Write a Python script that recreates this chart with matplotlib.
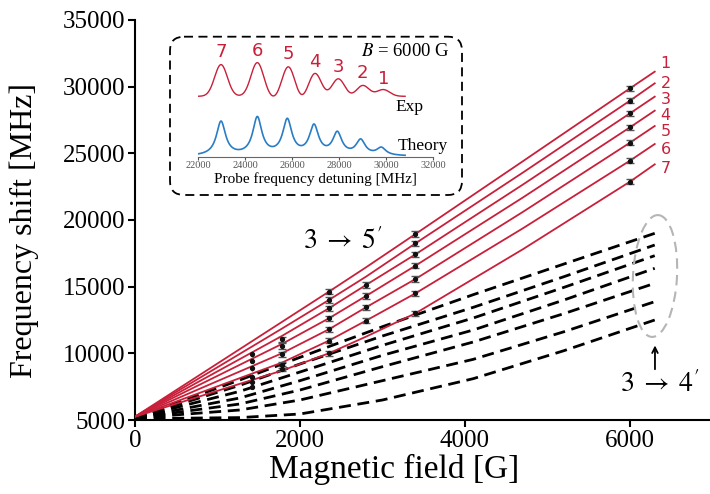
import numpy as np
import matplotlib
matplotlib.use("Agg")
import matplotlib.pyplot as plt
from matplotlib.patches import FancyBboxPatch, Ellipse

plt.rcParams["font.family"] = ["Liberation Serif", "DejaVu Serif"]
plt.rcParams["mathtext.fontset"] = "stix"

RED = "#c8203a"
BLUE = "#2a7dc4"

# ------------------------------------------------------------
# 1. DATA
# ------------------------------------------------------------
# 3 -> 5' theory lines (red), sampled at these fields [G]
red_B = [0, 1780, 2350, 2800, 3400, 4700, 6000, 6300]
red_1 = [5250, 12350, 14625, 16450, 18950, 24400, 29875, 31125]
red_2 = [5250, 11850, 14000, 15750, 18250, 23550, 28950, 30250]
red_3 = [5250, 11300, 13375, 15125, 17425, 22650, 28000, 29250]
red_4 = [5250, 10700, 12625, 14300, 16575, 21680, 26950, 28200]
red_5 = [5250, 10000, 11800, 13450, 15575, 20600, 25800, 27050]
red_6 = [5250, 9300, 10950, 12450, 14500, 19370, 24450, 25700]
red_7 = [5250, 8700, 10000, 11250, 13000, 17800, 22875, 24175]
red_lines = [red_1, red_2, red_3, red_4, red_5, red_6, red_7]
line_names = ["1", "2", "3", "4", "5", "6", "7"]

# 3 -> 4' theory lines (black dashed)
dash_B = [0, 1270, 2000, 3000, 4100, 5200, 6300]
dash_1 = [5150, 8000, 9700, 12000, 14400, 16700, 19000]
dash_2 = [5150, 7600, 9200, 11300, 13450, 15750, 18125]
dash_3 = [5150, 7150, 8600, 10600, 12650, 14950, 17325]
dash_4 = [5150, 6650, 7950, 9850, 11750, 14000, 16375]
dash_5 = [5150, 6200, 7250, 9000, 10850, 12980, 15250]
dash_6 = [5150, 5750, 6500, 7950, 9550, 11620, 13875]
dash_7 = [5100, 5180, 5450, 6500, 8100, 10200, 12500]
dash_lines = [dash_1, dash_2, dash_3, dash_4, dash_5, dash_6, dash_7]

# measured peak positions
meas_B = [1414, 1780, 2350, 2800, 3400, 6000]
meas_shift = [
    [9925, 9450, 8875, 8250, 7875, 7500],
    [11050, 10550, 9925, 9125, 8850],
    [14625, 14000, 13375, 12625, 11800, 10950, 10000],
    [15125, 14300, 13450, 12450],
    [18950, 18250, 17425, 16575, 15575, 14500, 13000],
    [29875, 28950, 28000, 26950, 25800, 24450, 22875],
]
meas_err = 200

# inset spectra at B = 6000 G: peak centres [MHz], heights, widths
exp_centres = [22966, 24511, 25830, 26966, 27957, 28996, 29872]
exp_heights = [31.7, 33.7, 30.0, 23.3, 17.7, 11.0, 6.7]
exp_sigma = 270
exp_dip_centres = [25264, 26400, 27460, 28527]
exp_dip_depths = [-3.0, -4.0, -1.0, -1.0]
exp_baseline = 61

th_centres = [22966, 24511, 25787, 26923, 27915, 28908, 29787]
th_heights = [34.0, 37.5, 35.0, 29.0, 22.0, 15.0, 7.5]
th_hwhm = 235
th_baseline = 1

peak_label_y = [105.6, 106.6, 103.3, 95.6, 90.6, 84.0, 78.0]

# ------------------------------------------------------------
# 2. MAIN PLOT
# ------------------------------------------------------------
fig = plt.figure(figsize=(7.1, 4.94), dpi=100)
ax = fig.add_axes([135 / 710, 74 / 494, 575 / 710, 400 / 494])

for d in dash_lines:
    ax.plot(dash_B, d, color="k", lw=2.0, ls=(0, (4.3, 2.4)), zorder=2)

for r in red_lines:
    ax.plot(red_B, r, color=RED, lw=1.3, zorder=3)

for B, shifts in zip(meas_B, meas_shift):
    cap = 0 if B == meas_B[0] else 3
    ax.errorbar([B] * len(shifts), shifts, yerr=meas_err, fmt="o", ms=2.8,
                color="#111111", ecolor="#555555", elinewidth=1,
                capsize=cap, capthick=1, zorder=4)

label_y = [31750, 30250, 29050, 27875, 26675, 25300, 23875]
for name, y in zip(line_names, label_y):
    ax.text(6430, y, name, color=RED, fontsize=11.5, family="DejaVu Sans",
            ha="center", va="center", clip_on=False)

ax.text(2515, 18375, r"$3\;\rightarrow\;5'$", fontsize=20,
        ha="center", va="center")
ax.text(6358, 7625, r"$3\;\rightarrow\;4'$", fontsize=20,
        ha="center", va="center", clip_on=False)
ax.annotate("", xy=(6303, 10800), xytext=(6303, 8600),
            arrowprops=dict(arrowstyle="->", lw=1.3, color="k"))

ax.set_xlim(0, 6970)
ax.set_ylim(5000, 35000)
ax.set_xticks([0, 2000, 4000, 6000])
ax.set_yticks(range(5000, 35001, 5000))
ax.spines["top"].set_visible(False)
ax.spines["right"].set_visible(False)
for s in ("left", "bottom"):
    ax.spines[s].set_linewidth(1.5)
ax.tick_params(labelsize=18, length=5, width=1.5, direction="out", pad=2)
ax.set_xlabel("Magnetic field [G]", fontsize=24)
ax.set_ylabel("Frequency shift [MHz]", fontsize=23)
ax.xaxis.set_label_coords(0.45, -0.085)
ax.yaxis.set_label_coords(-0.167, 0.475)

# ------------------------------------------------------------
# 3. INSET SPECTRA
# ------------------------------------------------------------
ins = fig.add_axes([198.3 / 710, (494 - 157.3) / 494, 235 / 710, 102.3 / 494])
ins.patch.set_alpha(0)
f = np.linspace(22000, 30800, 900)
exp_curve = np.full_like(f, exp_baseline, dtype=float)
for c, h in zip(exp_centres, exp_heights):
    exp_curve += h * np.exp(-0.5 * ((f - c) / exp_sigma) ** 2)
for c, h in zip(exp_dip_centres, exp_dip_depths):
    exp_curve += h * np.exp(-0.5 * ((f - c) / 250) ** 2)
th_curve = np.full_like(f, th_baseline, dtype=float)
for c, h in zip(th_centres, th_heights):
    th_curve += h * th_hwhm ** 2 / ((f - c) ** 2 + th_hwhm ** 2)
ins.plot(f, exp_curve, color=RED, lw=1.0)
ins.plot(f, th_curve, color=BLUE, lw=1.2)
for name, c, y in zip(line_names[::-1], exp_centres, peak_label_y):
    ins.text(c, y, name, color=RED, fontsize=13, family="DejaVu Sans",
             ha="center", va="center", clip_on=False)
ins.text(30796, 105.6, r"$B$ = 6000 G", fontsize=13.5,
         ha="center", va="center", clip_on=False)
ins.text(30966, 50.6, "Exp", fontsize=12.5, ha="center", va="center")
ins.text(31540, 11.3, "Theory", fontsize=12.5, ha="center", va="center")
ins.set_xlim(22000, 32000)
ins.set_ylim(0, 102.3)
ins.set_xticks(range(22000, 32001, 2000))
ins.set_yticks([])
for s in ("top", "right", "left"):
    ins.spines[s].set_visible(False)
ins.spines["bottom"].set_color("#666666")
ins.tick_params(labelsize=7.5, length=2, colors="#555555", pad=1)
ins.set_xlabel("Probe frequency detuning [MHz]", fontsize=11, labelpad=1)

# ------------------------------------------------------------
# 4. FRAME AROUND INSET + ELLIPSE (pixel overlay)
# ------------------------------------------------------------
ov = fig.add_axes([0, 0, 1, 1])
ov.set_xlim(0, 710)
ov.set_ylim(494, 0)
ov.axis("off")
ov.patch.set_alpha(0)
ov.add_patch(FancyBboxPatch((170, 36.7), 292, 158.3,
                            boxstyle="round,pad=0,rounding_size=14",
                            fill=False, lw=1.3, ls=(0, (5, 3)), ec="k"))
ov.add_patch(Ellipse((655, 276), 44, 122, angle=3, fill=False,
                     ls=(0, (5, 3)), lw=1.5, ec="#b5b5b5"))

fig.savefig("out.png", dpi=100)
